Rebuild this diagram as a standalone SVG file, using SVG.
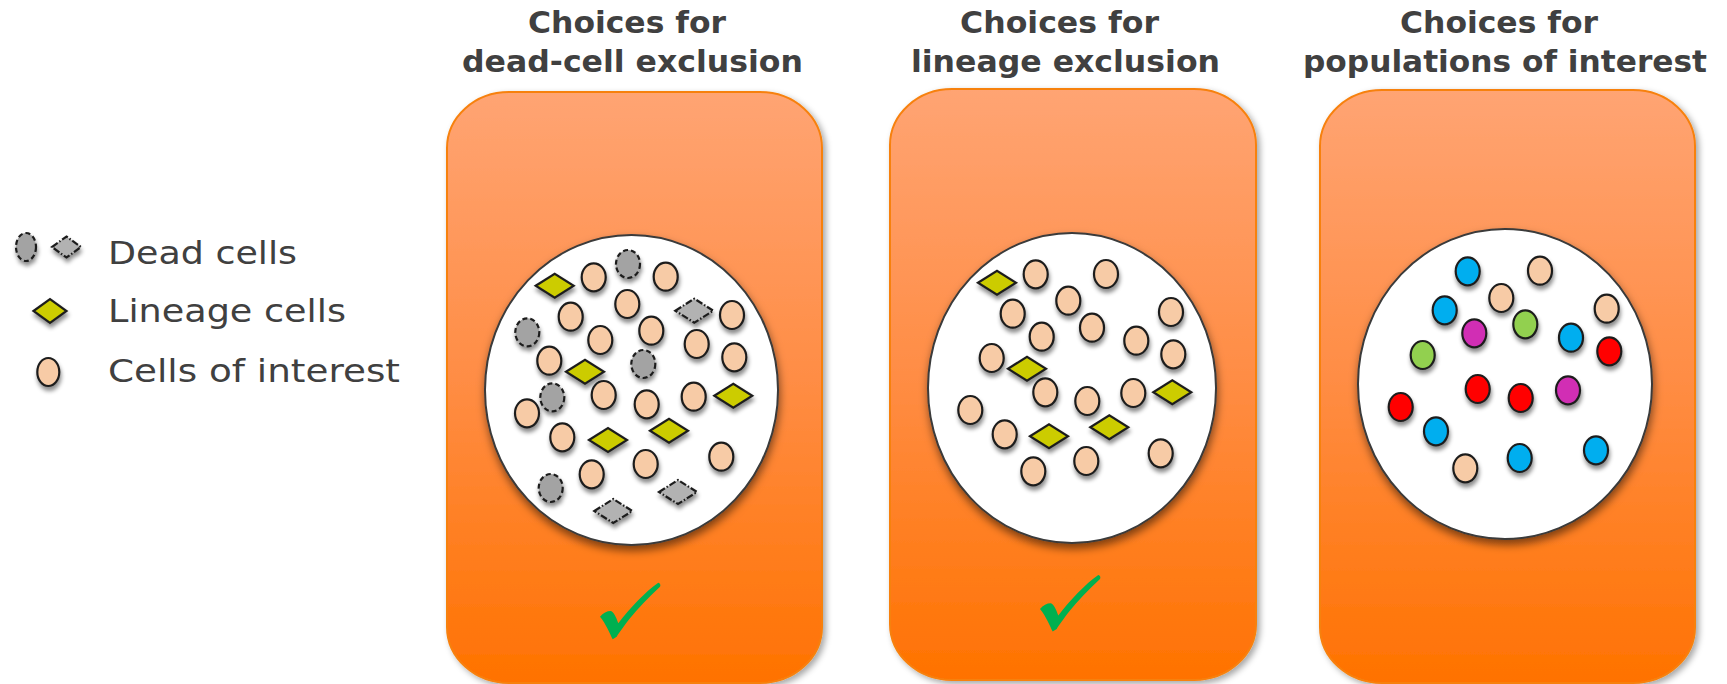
<svg xmlns="http://www.w3.org/2000/svg" xmlns:xlink="http://www.w3.org/1999/xlink" width="1727" height="684" viewBox="0 0 1727 684">
  <style>
    .title { font-family: "DejaVu Sans", Verdana, sans-serif; font-weight: bold; font-size: 30px; fill: #404040; }
    .legend-text { font-family: "DejaVu Sans", Verdana, sans-serif; font-size: 32px; fill: #404040; }
    .panel { fill: url(#panelFill); stroke: #F7810F; stroke-width: 2; }
    .dish { fill: #FFFFFF; stroke: #3A3A3A; stroke-width: 2; }
    .cell { stroke: #1E1E1E; stroke-width: 2.2; }
    .peach { fill: #F7CBA6; }
    .lineage { fill: #CCCC00; }
    .dead { fill: #A3A3A3; stroke-dasharray: 5 3; }
    .dead-d { fill: #B2B2B2; stroke-dasharray: 7 2 1.5 2; }
    .blue { fill: #00AEEF; }
    .green { fill: #92D050; }
    .magenta { fill: #D12FB4; }
    .red { fill: #FF0000; }
    .check { fill: #00B050; }
  </style>
  <defs>
    <linearGradient id="panelFill" x1="0" y1="0" x2="0" y2="1">
      <stop offset="0" stop-color="#FFA473"/>
      <stop offset="0.5" stop-color="#FF8C43"/>
      <stop offset="1" stop-color="#FF7200"/>
    </linearGradient>
    <filter id="panelShadow" x="-10%" y="-10%" width="125%" height="125%">
      <feDropShadow dx="3" dy="3" stdDeviation="3" flood-color="#000" flood-opacity="0.35"/>
    </filter>
    <filter id="dishShadow" x="-10%" y="-10%" width="125%" height="125%">
      <feDropShadow dx="1" dy="5" stdDeviation="4" flood-color="#000" flood-opacity="0.5"/>
    </filter>
    <filter id="cellShadow" x="-10%" y="-10%" width="125%" height="125%">
      <feDropShadow dx="1" dy="4" stdDeviation="2" flood-color="#000" flood-opacity="0.45"/>
    </filter>
    <ellipse id="e" cx="0" cy="0" rx="12" ry="14"/>
    <polygon id="d" points="-19,0 0,-12 19,0 0,12"/>
    <path id="tick" d="M600,616.7 C603,613 607,611 610.7,611 C614,612 616,617 618.3,623.3 C630,608 645,592 658.3,582.7 C660,583 661,585 660,586.7 C648,598 638,608 630,618.3 C624,626 619,633 616.7,636.7 L612.7,639.3 C610,634 606,624 600,616.7 Z"/>
  </defs>

  <rect width="1727" height="684" fill="#FFFFFF"/>

  <!-- Legend -->
  <g id="legend">
    <g filter="url(#cellShadow)">
      <ellipse class="cell dead" cx="26" cy="247" rx="10" ry="14"/>
      <polygon class="cell dead-d" points="52,247 66.5,236.5 81,247 66.5,257.5"/>
      <polygon class="cell lineage" points="33.5,311 50,299 66.5,311 50,323"/>
      <ellipse class="cell peach" cx="48.3" cy="372" rx="11" ry="14"/>
    </g>
    <text class="legend-text" x="108" y="264" textLength="189" lengthAdjust="spacingAndGlyphs">Dead cells</text>
    <text class="legend-text" x="108" y="322" textLength="238" lengthAdjust="spacingAndGlyphs">Lineage cells</text>
    <text class="legend-text" x="108" y="382" textLength="292" lengthAdjust="spacingAndGlyphs">Cells of interest</text>
  </g>

  <!-- Panel 1: dead-cell exclusion -->
  <g id="panel-dead-cell">
    <text class="title" x="528" y="33" textLength="198" lengthAdjust="spacingAndGlyphs">Choices for</text>
    <text class="title" x="462" y="72" textLength="341" lengthAdjust="spacingAndGlyphs">dead-cell exclusion</text>
    <rect class="panel" x="447" y="92" width="375" height="591" rx="62" ry="56" filter="url(#panelShadow)"/>
    <ellipse class="dish" cx="631.5" cy="390" rx="146.5" ry="155" filter="url(#dishShadow)"/>
    <g filter="url(#cellShadow)">
      <use href="#e" class="cell peach" x="593.7" y="277.3"/>
      <use href="#e" class="cell peach" x="665.7" y="276.7"/>
      <use href="#e" class="cell peach" x="627.3" y="304"/>
      <use href="#e" class="cell peach" x="570.7" y="316.7"/>
      <use href="#e" class="cell peach" x="732" y="315"/>
      <use href="#e" class="cell peach" x="651.3" y="330.7"/>
      <use href="#e" class="cell peach" x="600.3" y="340"/>
      <use href="#e" class="cell peach" x="696.7" y="344"/>
      <use href="#e" class="cell peach" x="734.3" y="357.3"/>
      <use href="#e" class="cell peach" x="549.3" y="360.7"/>
      <use href="#e" class="cell peach" x="603.7" y="395"/>
      <use href="#e" class="cell peach" x="646.7" y="404.3"/>
      <use href="#e" class="cell peach" x="693.7" y="396.7"/>
      <use href="#e" class="cell peach" x="527" y="413.3"/>
      <use href="#e" class="cell peach" x="562.3" y="437.3"/>
      <use href="#e" class="cell peach" x="721.3" y="456.7"/>
      <use href="#e" class="cell peach" x="645.7" y="464"/>
      <use href="#e" class="cell peach" x="591.7" y="474.3"/>
      <use href="#e" class="cell dead" x="628" y="264"/>
      <use href="#e" class="cell dead" x="527.3" y="332.3"/>
      <use href="#e" class="cell dead" x="643.3" y="364"/>
      <use href="#e" class="cell dead" x="552.3" y="397.3"/>
      <use href="#e" class="cell dead" x="550.7" y="488"/>
      <use href="#d" class="cell dead-d" x="694.3" y="310.7"/>
      <use href="#d" class="cell dead-d" x="678" y="492"/>
      <use href="#d" class="cell dead-d" x="613.3" y="511"/>
      <use href="#d" class="cell lineage" x="554.7" y="285.7"/>
      <use href="#d" class="cell lineage" x="585" y="371.7"/>
      <use href="#d" class="cell lineage" x="733.3" y="395.7"/>
      <use href="#d" class="cell lineage" x="669" y="430.7"/>
      <use href="#d" class="cell lineage" x="608" y="440"/>
    </g>
    <use href="#tick" class="check"/>
  </g>

  <!-- Panel 2: lineage exclusion -->
  <g id="panel-lineage">
    <text class="title" x="960" y="33" textLength="199" lengthAdjust="spacingAndGlyphs">Choices for</text>
    <text class="title" x="911" y="72" textLength="309" lengthAdjust="spacingAndGlyphs">lineage exclusion</text>
    <rect class="panel" x="890" y="89" width="366" height="591" rx="62" ry="56" filter="url(#panelShadow)"/>
    <ellipse class="dish" cx="1072" cy="388" rx="144" ry="155" filter="url(#dishShadow)"/>
    <g filter="url(#cellShadow)">
      <use href="#e" class="cell peach" x="1035.7" y="274.3"/>
      <use href="#e" class="cell peach" x="1106" y="274"/>
      <use href="#e" class="cell peach" x="1068.3" y="300.7"/>
      <use href="#e" class="cell peach" x="1012.7" y="313.7"/>
      <use href="#e" class="cell peach" x="1171" y="312"/>
      <use href="#e" class="cell peach" x="1092" y="327.7"/>
      <use href="#e" class="cell peach" x="1041.7" y="336.7"/>
      <use href="#e" class="cell peach" x="1136.3" y="340.7"/>
      <use href="#e" class="cell peach" x="1173.3" y="354.3"/>
      <use href="#e" class="cell peach" x="991.7" y="358"/>
      <use href="#e" class="cell peach" x="1045.3" y="392.3"/>
      <use href="#e" class="cell peach" x="1087.3" y="401"/>
      <use href="#e" class="cell peach" x="1133.3" y="393"/>
      <use href="#e" class="cell peach" x="970.3" y="410"/>
      <use href="#e" class="cell peach" x="1004.7" y="434.3"/>
      <use href="#e" class="cell peach" x="1160.7" y="453.3"/>
      <use href="#e" class="cell peach" x="1086.3" y="461"/>
      <use href="#e" class="cell peach" x="1033.3" y="471.3"/>
      <use href="#d" class="cell lineage" x="997" y="282.7"/>
      <use href="#d" class="cell lineage" x="1027" y="368.7"/>
      <use href="#d" class="cell lineage" x="1172.3" y="392.3"/>
      <use href="#d" class="cell lineage" x="1109.3" y="427.3"/>
      <use href="#d" class="cell lineage" x="1049" y="436.3"/>
    </g>
    <use href="#tick" class="check" transform="translate(440,-7.7)"/>
  </g>

  <!-- Panel 3: populations of interest -->
  <g id="panel-populations">
    <text class="title" x="1400" y="33" textLength="198" lengthAdjust="spacingAndGlyphs">Choices for</text>
    <text class="title" x="1303" y="72" textLength="404" lengthAdjust="spacingAndGlyphs">populations of interest</text>
    <rect class="panel" x="1320" y="90" width="375" height="593" rx="62" ry="56" filter="url(#panelShadow)"/>
    <ellipse class="dish" cx="1505" cy="384" rx="147" ry="155" filter="url(#dishShadow)"/>
    <g filter="url(#cellShadow)">
      <use href="#e" class="cell blue" x="1467.7" y="271.3"/>
      <use href="#e" class="cell peach" x="1540" y="270.7"/>
      <use href="#e" class="cell peach" x="1501.3" y="298"/>
      <use href="#e" class="cell blue" x="1444.7" y="310.3"/>
      <use href="#e" class="cell peach" x="1606.7" y="308.7"/>
      <use href="#e" class="cell green" x="1525.3" y="324.3"/>
      <use href="#e" class="cell magenta" x="1474.3" y="333.3"/>
      <use href="#e" class="cell blue" x="1571" y="337.7"/>
      <use href="#e" class="cell red" x="1609.3" y="351.3"/>
      <use href="#e" class="cell green" x="1422.7" y="355"/>
      <use href="#e" class="cell red" x="1477.7" y="389"/>
      <use href="#e" class="cell red" x="1520.7" y="398"/>
      <use href="#e" class="cell magenta" x="1568" y="390.3"/>
      <use href="#e" class="cell red" x="1400.7" y="407"/>
      <use href="#e" class="cell blue" x="1436" y="431.3"/>
      <use href="#e" class="cell blue" x="1596" y="450.3"/>
      <use href="#e" class="cell blue" x="1519.7" y="458"/>
      <use href="#e" class="cell peach" x="1465.3" y="468.3"/>
    </g>
  </g>
</svg>
